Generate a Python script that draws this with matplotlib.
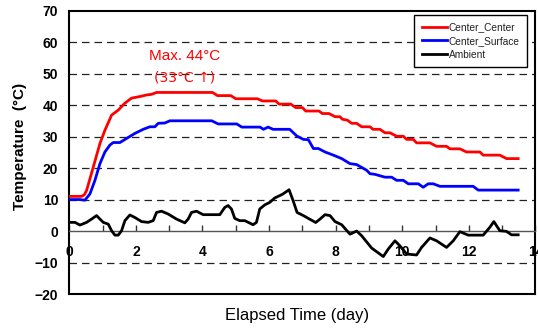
import matplotlib
matplotlib.use("Agg")
import matplotlib.pyplot as plt
from matplotlib.ticker import MultipleLocator

plt.rcParams['font.family'] = ['Liberation Sans', 'DejaVu Sans']

# Center_Center (red)
cc_t = [0, 0.37, 0.45, 0.52, 0.72, 0.92, 1.07, 1.27, 1.47, 1.67, 1.87, 2.12, 2.32, 2.47, 2.62,
        4.3, 4.45, 4.85, 5.0, 5.65, 5.8, 6.2, 6.3, 6.65, 6.8, 7.0, 7.1, 7.5, 7.6, 7.8, 7.98,
        8.13, 8.2, 8.35, 8.48, 8.63, 8.78, 9.03, 9.12, 9.33, 9.48, 9.63, 9.83, 10.03, 10.13,
        10.33, 10.43, 10.83, 11.03, 11.33, 11.43, 11.73, 11.93, 12.33, 12.43, 12.93, 13.13, 13.48]
cc_v = [11, 11, 11.5, 12.9, 20.3, 27.8, 32, 36.8, 38.4, 40.6, 42.2, 42.7, 43.2, 43.4, 44,
        44, 43, 43, 42, 42, 41.3, 41.3, 40.3, 40.3, 39.2, 39.2, 38.1, 38.1, 37.3, 37.3, 36.3,
        36.3, 35.5, 35.2, 34.2, 34.2, 33.1, 33.1, 32.3, 32.3, 31.2, 31.2, 30.1, 30.1, 29.1,
        29.1, 28, 28, 26.9, 26.9, 26.1, 26.1, 25.1, 25.1, 24.1, 24.1, 23, 23]

# Center_Surface (blue)
cs_t = [0, 0.3, 0.47, 0.62, 0.77, 0.92, 1.07, 1.22, 1.32, 1.52, 1.72, 1.97, 2.22, 2.42, 2.57,
        2.67, 2.87, 3.02, 4.28, 4.47, 5.03, 5.18, 5.73, 5.83, 5.97, 6.12, 6.62, 6.83, 7.03,
        7.18, 7.33, 7.48, 7.68, 7.93, 8.18, 8.43, 8.63, 8.93, 9.03, 9.18, 9.48, 9.68, 9.83,
        10.03, 10.18, 10.48, 10.63, 10.78, 10.93, 11.13, 12.13, 12.28, 13.48]
cs_v = [10, 10, 9.8, 11.8, 16.1, 21.4, 25.1, 27.3, 28.1, 28.1, 29.4, 31, 32.3, 33.1, 33.1,
        34.2, 34.3, 35, 35, 34, 34, 33, 33, 32.3, 33, 32.3, 32.3, 30.2, 29.1,
        29, 26.2, 26.2, 25.1, 24.1, 23, 21.4, 21.1, 19.3, 18.2, 18, 17.1, 17.1, 16.1,
        16.1, 15, 15, 13.9, 15, 15, 14.2, 14.2, 13, 13]

# Ambient (black)
am_t = [0.02, 0.17, 0.32, 0.52, 0.67, 0.82, 0.92, 1.02, 1.17, 1.27, 1.37, 1.47, 1.57, 1.67,
        1.82, 1.97, 2.17, 2.37, 2.52, 2.62, 2.77, 2.97, 3.22, 3.47, 3.57, 3.67, 3.82, 4.02,
        4.52, 4.67, 4.77, 4.87, 4.97, 5.12, 5.27, 5.52, 5.62, 5.72, 5.87, 6.02, 6.17, 6.33,
        6.42, 6.6, 6.72, 6.84, 7.03, 7.4, 7.53, 7.68, 7.83, 7.98, 8.18, 8.43, 8.63, 8.78,
        9.08, 9.43, 9.58, 9.78, 9.93, 10.13, 10.43, 10.58, 10.83, 11.03, 11.33, 11.53, 11.73,
        11.98, 12.43, 12.63, 12.75, 12.93, 13.13, 13.28, 13.48]
am_v = [2.75, 2.75, 1.9, 2.75, 3.8, 4.9, 3.8, 2.75, 2.2, 0.1, -1.3, -1.3, 0.1, 3.3,
        5.1, 4.3, 3.0, 2.75, 3.3, 5.9, 6.3, 5.4, 3.8, 2.6, 3.8, 5.9, 6.3, 5.2,
        5.2, 7.5, 8.1, 7.0, 4.0, 3.3, 3.3, 2.0, 2.75, 7.0, 8.3, 9.1, 10.5, 11.3,
        11.8, 13.1, 9.7, 5.9, 4.9, 2.7, 3.8, 5.2, 4.9, 3.0, 2.0, -1.0, 0.0, -1.5,
        -5.4, -8.1, -5.7, -3.1, -4.7, -7.3, -7.6, -5.2, -2.2, -3.1, -5.2, -3.1, -0.2,
        -1.3, -1.3, 1.2, 3.0, 0.1, -0.1, -1.2, -1.2]

x_labels = [0, 2, 4, 6, 8, 10, 12, 14]
y_labels = [-20, -10, 0, 10, 20, 30, 40, 50, 60, 70]
grid_levels = [-10, 10, 20, 30, 40, 50, 60]

fig = plt.figure(figsize=(5.38, 3.30), dpi=100)
ax = fig.add_axes([0.1288, 0.109, 0.8665, 0.859])

for g in grid_levels:
    ax.axhline(g, color='#222222', lw=0.9, ls=(0, (6, 4)), zorder=1)

ax.plot(cc_t, cc_v, color='#ff0000', lw=2.0, label='Center_Center', zorder=3)
ax.plot(cs_t, cs_v, color='#0000ff', lw=2.0, label='Center_Surface', zorder=3)
ax.plot(am_t, am_v, color='black', lw=2.0, label='Ambient', zorder=3,
        solid_joinstyle='round')

ax.set_xlim(0, 14)
ax.set_ylim(-20, 70)
ax.set_xticks(x_labels)
ax.xaxis.set_minor_locator(MultipleLocator(1))
ax.set_yticks(y_labels)

ax.spines['bottom'].set_position(('data', 0))
ax.spines['bottom'].set_color('#555555')
ax.spines['bottom'].set_linewidth(1.0)
for s in ['left', 'top', 'right']:
    ax.spines[s].set_linewidth(1.5)
ax.axhline(-20, color='black', lw=1.5, clip_on=False, zorder=4)

ax.tick_params(axis='x', which='both', direction='in', length=4, width=1,
               color='#333333', pad=10, labelsize=10)
ax.tick_params(axis='y', length=0, pad=8, labelsize=10)
for lab in ax.get_xticklabels() + ax.get_yticklabels():
    lab.set_fontweight('bold')

ax.set_xlabel('Elapsed Time (day)', fontsize=12)
ax.xaxis.set_label_coords(0.488, -0.05)
ax.set_ylabel('Temperature  (°C)', fontsize=11, fontweight='bold')
ax.yaxis.set_label_coords(-0.09, 0.52)

ax.text(3.47, 55.5, 'Max. 44°C', color='#ff0000', fontsize=11, ha='center', va='center')
ax.text(3.47, 48.7, '(33°C ↑)', color='#ff0000', fontsize=10, ha='center', va='center',
        family=['DejaVu Sans'])

leg = ax.legend(loc='upper right', bbox_to_anchor=(0.9818, 0.984), fontsize=7.3,
                frameon=True, fancybox=False, framealpha=1, edgecolor='black',
                handlelength=2.5, handletextpad=0.2, borderpad=0.7, labelspacing=0.38,
                borderaxespad=0)
leg.get_frame().set_linewidth(1.0)
for t in leg.get_texts():
    t.set_color('#222222')

fig.savefig('out.png', dpi=100)
